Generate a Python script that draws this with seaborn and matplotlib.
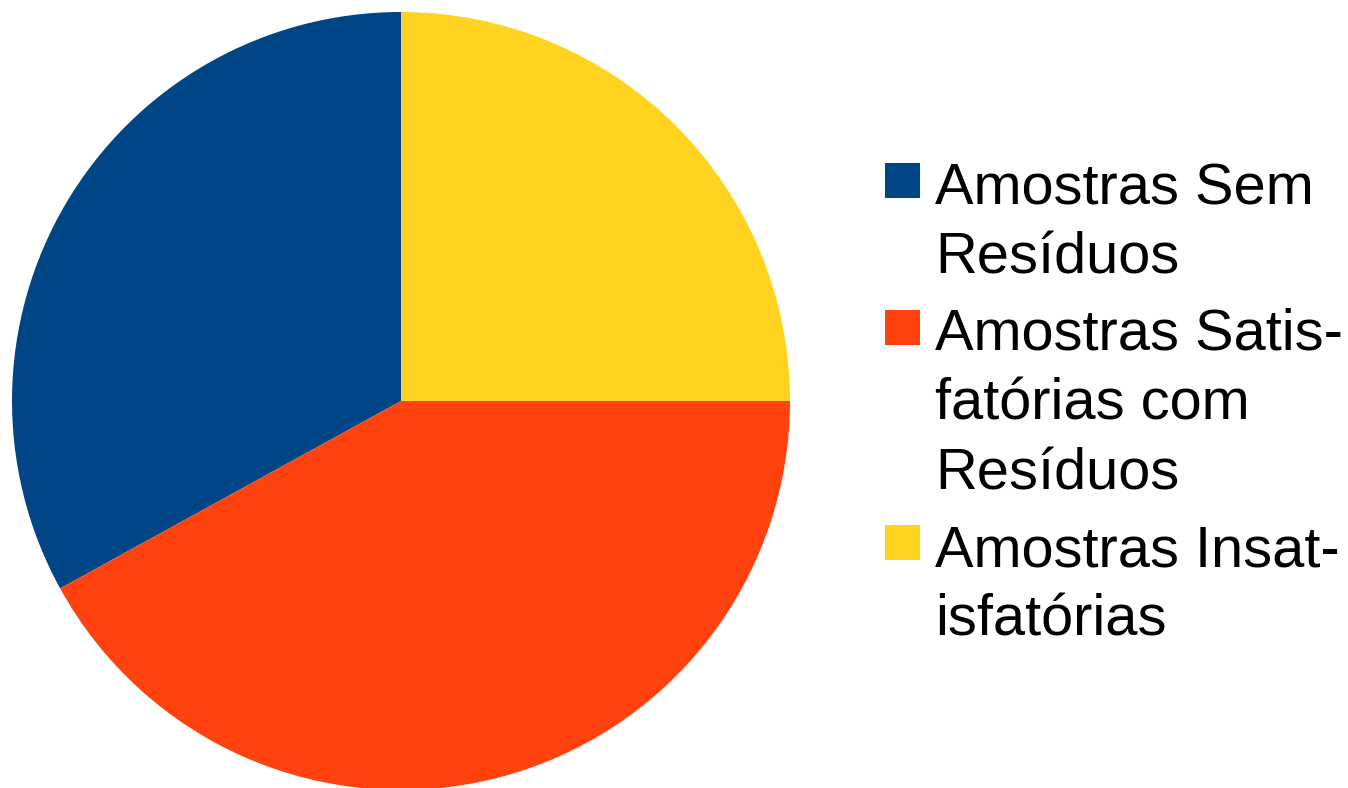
# pie chart of sample results (residues)
import matplotlib.pyplot as plt
from matplotlib.patches import Rectangle
import seaborn as sns

# data
categorias = ["Amostras Sem\nResíduos",
              "Amostras Satis-\nfatórias com\nResíduos",
              "Amostras Insat-\nisfatórias"]
valores = [33, 42, 25]
cores = ["#004586", "#ff420e", "#ffd320"]

sns.set_style("white")
plt.rcParams['font.family'] = ['Liberation Sans', 'DejaVu Sans']

W, H = 1348, 788
fig = plt.figure(figsize=(W / 100, H / 100), dpi=100)
# pie occupies the left part, centre ~ (401, 401) px, radius ~ 389 px
ax = fig.add_axes([12 / W, -2 / H, 778 / W, 778 / H])
palette = sns.color_palette(cores)
ax.pie(valores, colors=palette, startangle=90, counterclock=True,
       wedgeprops={'linewidth': 0})
ax.set_xlim(-1, 1)
ax.set_ylim(-1, 1)
ax.set_aspect('equal')
ax.axis('off')

# legend drawn by hand so the squares sit next to the first line
linha = 68      # px between lines
base = 206      # px, baseline of the first line of the first entry
for cat, cor in zip(categorias, palette):
    n = cat.count('\n')
    fig.patches.append(Rectangle((885 / W, 1 - (base - 8) / H), 35 / W, 35 / H,
                                 transform=fig.transFigure, facecolor=cor,
                                 edgecolor='none'))
    # va='baseline' puts the last line on the given y
    fig.text(935 / W, 1 - (base + n * linha) / H, cat, fontsize=41.6,
             color='black', va='baseline', ha='left', linespacing=1.37)
    base += n * linha + linha + 11

plt.savefig('out.png', dpi=100)
